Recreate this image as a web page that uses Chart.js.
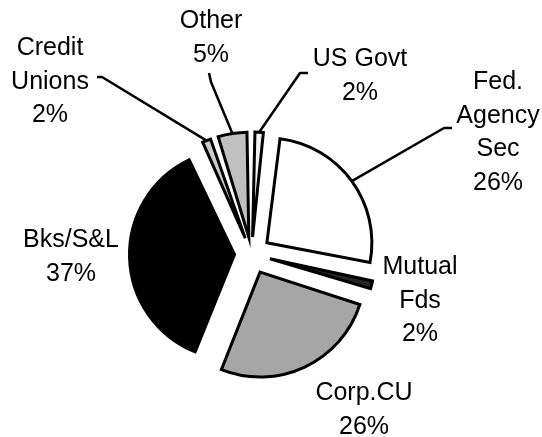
<!DOCTYPE html>
<html>
<head>
<meta charset="utf-8">
<script src="https://cdn.jsdelivr.net/npm/chart.js@4/dist/chart.umd.min.js"></script>
<style>
  body { margin: 0; background: #fff; }
  .chart-box { width: 542px; height: 437px; }
</style>
</head>
<body>
<div class="chart-box"><canvas id="pie-chart"></canvas></div>
<script>
"use strict";

const categories = ["US Govt", "Fed. Agency Sec", "Mutual Fds", "Corp.CU", "Bks/S&L", "Credit Unions", "Other"];
const shares = [2, 26, 2, 26, 37, 2, 5];
const sliceColors = ["#f2f2f2", "#ffffff", "#262626", "#a6a6a6", "#000000", "#cccccc", "#c0c0c0"];

// label text per slice, one entry per line
const labelLines = [
  ["US Govt", "2%"],
  ["Fed.", "Agency", "Sec", "26%"],
  ["Mutual", "Fds", "2%"],
  ["Corp.CU", "26%"],
  ["Bks/S&L", "37%"],
  ["Credit", "Unions", "2%"],
  ["Other", "5%"],
];

const PIE_RADIUS = 105;

// where each label sits, and the elbow/end of its leader line (if any)
const labelLayout = [
  { x: 360, y: 66, leader: [[300, 73], [308, 73]] },
  { x: 498, y: 89, leader: [[444, 128], [452, 128]] },
  { x: 420, y: 274 },
  { x: 364, y: 400 },
  { x: 71, y: 247 },
  { x: 50, y: 55, leader: [[102, 77], [97, 77]] },
  { x: 211, y: 28, leader: [[211, 82], [209, 73]] },
];

function arcShift(arc) {
  return (arc.options.offset || 0) / 4;
}

// chart.js grows small exploded slices, keep every slice at the same radius
const keepRadius = {
  id: "keepRadius",
  beforeDatasetDraw(chart, args) {
    args.meta.data.forEach((arc) => {
      const fix = 1 - Math.sin(Math.min(Math.PI, arc.circumference));
      arc.outerRadius = PIE_RADIUS - arcShift(arc) * fix;
    });
  },
};

const sliceLabels = {
  id: "sliceLabels",
  afterDraw(chart) {
    const ctx = chart.ctx;
    const arcs = chart.getDatasetMeta(0).data;
    ctx.save();
    ctx.strokeStyle = "#000";
    ctx.lineWidth = 2.5;
    ctx.lineJoin = "round";
    arcs.forEach((arc, i) => {
      const layout = labelLayout[i];
      if (layout.leader) {
        const half = (arc.startAngle + arc.endAngle) / 2;
        const reach = arcShift(arc) + PIE_RADIUS;
        ctx.beginPath();
        ctx.moveTo(arc.x + Math.cos(half) * reach, arc.y + Math.sin(half) * reach);
        layout.leader.forEach((p) => ctx.lineTo(p[0], p[1]));
        ctx.stroke();
      }
    });
    ctx.fillStyle = "#000";
    ctx.font = "25px 'Liberation Sans', Arial, sans-serif";
    ctx.textAlign = "center";
    ctx.textBaseline = "alphabetic";
    labelLines.forEach((lines, i) => {
      const layout = labelLayout[i];
      lines.forEach((line, n) => {
        ctx.fillText(line, layout.x, layout.y + n * 33.5);
      });
    });
    ctx.restore();
  },
};

const ctx = document.querySelector("#pie-chart").getContext("2d");
const configuration = {
  type: "pie",
  data: {
    labels: categories,
    datasets: [
      {
        data: shares,
        backgroundColor: sliceColors,
        borderColor: "#000",
        borderWidth: 3,
        borderJoinStyle: "miter",
        offset: [68, 76, 76, 80, 68, 68, 68],
      },
    ],
  },
  options: {
    responsive: true,
    maintainAspectRatio: false,
    animation: false,
    events: [],
    radius: PIE_RADIUS,
    layout: {
      padding: { left: 0, right: 39, top: 71, bottom: 0 },
    },
    plugins: {
      legend: { display: false },
      tooltip: { enabled: false },
    },
  },
  plugins: [keepRadius, sliceLabels],
};
const pieChart = new Chart(ctx, configuration);
</script>
</body>
</html>
